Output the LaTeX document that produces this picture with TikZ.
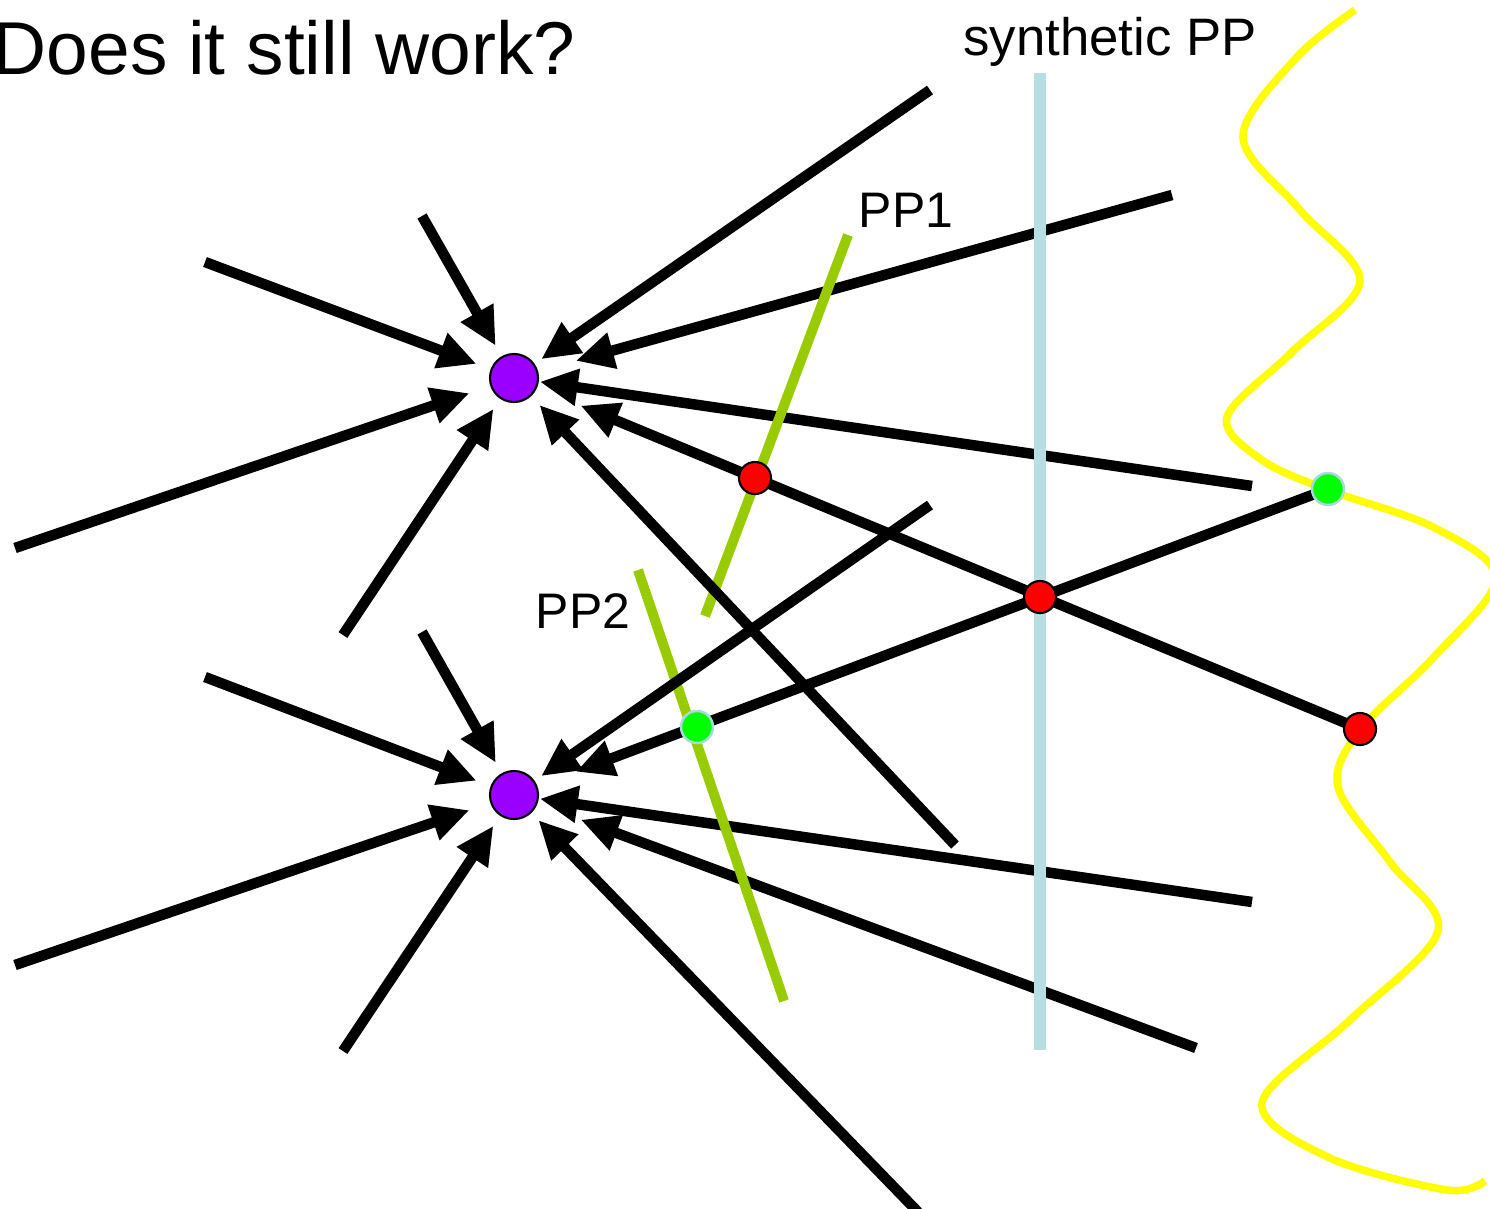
\documentclass[tikz,border=0pt]{standalone}
\usepackage{fontspec}
\setmainfont{Liberation Sans}
\usetikzlibrary{arrows.meta}

\definecolor{ppgreen}{HTML}{99CC00}
\definecolor{synblue}{HTML}{B7DFE3}
\definecolor{curveyellow}{HTML}{FFFF00}
\definecolor{campurple}{HTML}{9900FF}
\definecolor{dotrim}{HTML}{A9D9E0}

\tikzset{
  ray/.style={line width=1.05mm, -{Triangle[length=3.8mm,width=3.5mm]}},
  ppline/.style={line width=1mm, ppgreen},
  camdot/.style={circle, draw=black, line width=0.6pt, fill=campurple, minimum size=4.8mm, inner sep=0pt},
  reddot/.style={circle, draw=black, line width=0.6pt, fill=red, minimum size=3.2mm, inner sep=0pt},
  greendot/.style={circle, draw=dotrim, line width=0.7pt, fill=green, minimum size=3.2mm, inner sep=0pt},
  ppname/.style={font=\fontsize{14.2pt}{16pt}\selectfont, inner sep=0pt}
}

\begin{document}
\begin{tikzpicture}[x=0.01cm, y=-0.01cm]
    \useasboundingbox (0,0) rectangle (1490,1208);

    % the two cameras
    \node[camdot] (top) at (514,378) {};
    \node[camdot] (bot) at (514,795) {};

    % points on the planes
    \coordinate (r1) at (755,478);
    \coordinate (r2) at (1040,597);
    \coordinate (r3) at (1360,729);
    \coordinate (g1) at (697,727);
    \coordinate (g2) at (1328,489);

    % free ends of the rays
    \coordinate (t1) at (205,262);
    \coordinate (t2) at (422,216);
    \coordinate (t3) at (930,90);
    \coordinate (t4) at (1172,195);
    \coordinate (t5) at (1252,486);
    \coordinate (t7) at (955,845);
    \coordinate (t8) at (343,635);
    \coordinate (t9) at (15,548);
    \coordinate (b1) at (205,677);
    \coordinate (b2) at (422,632);
    \coordinate (b3) at (930,505);
    \coordinate (b5) at (1252,902);
    \coordinate (b6) at (1196,1048);
    \coordinate (b7) at (918,1212);
    \coordinate (b8) at (343,1051);
    \coordinate (b9) at (15,965);

    % rays into the bottom camera, under PP2
    \draw[ray, shorten >=0.01cm] (b5) -- (bot);
    \draw[ray, shorten >=0.46cm] (b6) -- (bot);

    % rays into the top camera
    \draw[ray, shorten >=0.15cm] (t1) -- (top);
    \draw[ray, shorten >=0.12cm] (t2) -- (top);
    \draw[ray, shorten >=0.08cm] (t3) -- (top);
    \draw[ray, shorten >=0.39cm] (t4) -- (top);
    \draw[ray, shorten >=0.01cm] (t5) -- (top);
    \draw[ray, shorten >=0.47cm] (r3) -- (top);
    \draw[ray, shorten >=0.12cm] (t8) -- (top);
    \draw[ray, shorten >=0.22cm] (t9) -- (top);

    % rays into the bottom camera
    \draw[ray, shorten >=0.15cm] (b1) -- (bot);
    \draw[ray, shorten >=0.12cm] (b2) -- (bot);
    \draw[ray, shorten >=0.41cm] (g2) -- (bot);
    \draw[ray, shorten >=0.10cm] (b7) -- (bot);
    \draw[ray, shorten >=0.12cm] (b8) -- (bot);
    \draw[ray, shorten >=0.22cm] (b9) -- (bot);

    % the two planes
    \coordinate (p1a) at (848,235);
    \coordinate (p1b) at (705,616);
    \coordinate (p2a) at (638,570);
    \coordinate (p2b) at (784,1001);
    \draw[ppline] (p1a) -- (p1b);
    \draw[ppline] (p2a) -- (p2b);

    % rays over the planes
    \draw[ray, shorten >=0.12cm] (t7) -- (top);
    \draw[ray, shorten >=0.08cm] (b3) -- (bot);

    % synthetic plane
    \coordinate (sa) at (1040,73);
    \coordinate (sb) at (1040,1050);
    \draw[synblue, line width=1.25mm] (sa) -- (sb);

    % the surface
    \draw[curveyellow, line width=0.75mm] plot[smooth, tension=0.55] coordinates {
        (1355,10) (1296,58) (1243,137) (1300,210) (1360,281) (1292,352)
        (1227,417) (1262,460) (1328,490) (1433,527) (1496,578) (1433,658)
        (1360,730) (1338,787) (1390,862) (1438,931) (1350,1020) (1262,1103)
        (1330,1158) (1447,1190) (1485,1181)
    };

    \node[reddot] at (r1) {};
    \node[reddot] at (r2) {};
    \node[reddot] at (r3) {};
    \node[greendot] at (g1) {};
    \node[greendot] at (g2) {};

    \node[ppname, anchor=base west] (pp1) at (858,227) {PP1};
    \node[ppname, anchor=base west] (pp2) at (535,628) {PP2};
    \node[ppname, font=\fontsize{15pt}{17pt}\selectfont, anchor=base] (spp) at (1110,55) {synthetic PP};
    \node[font=\fontsize{21.3pt}{24pt}\selectfont, inner sep=0pt, anchor=base west] (title) at (-8,74) {Does it still work?};
\end{tikzpicture}
\end{document}
